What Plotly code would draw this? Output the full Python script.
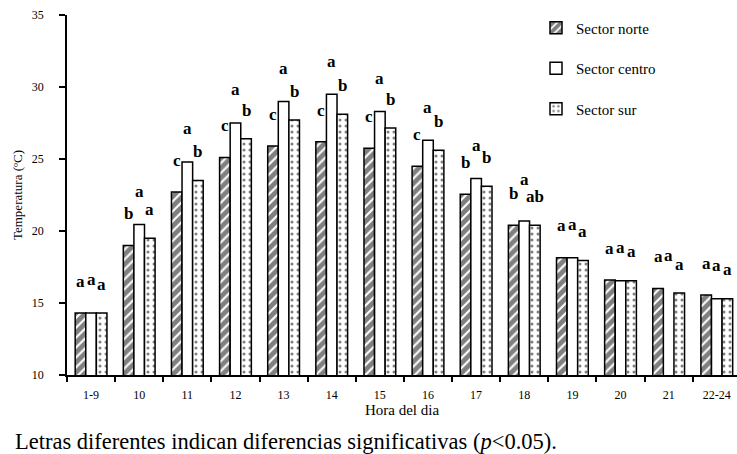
import plotly.graph_objects as go

categories = ["1-9", "10", "11", "12", "13", "14", "15", "16", "17", "18", "19", "20", "21", "22-24"]
series_names = ["Sector norte", "Sector centro", "Sector sur"]
norte = [14.3, 19.0, 22.7, 25.1, 25.9, 26.2, 25.75, 24.5, 22.55, 20.4, 18.15, 16.6, 16.0, 15.55]
centro = [14.3, 20.45, 24.8, 27.5, 29.0, 29.5, 28.3, 26.3, 23.65, 20.7, 18.15, 16.55, None, 15.3]
sur = [14.3, 19.5, 23.5, 26.4, 27.7, 28.1, 27.15, 25.6, 23.1, 20.4, 17.95, 16.55, 15.7, 15.3]
letters_norte = ["a", "b", "c", "c", "c", "c", "c", "c", "b", "b", "a", "a", "a", "a"]
letters_centro = ["a", "a", "a", "a", "a", "a", "a", "a", "a", "a", "a", "a", "a", "a"]
letters_sur = ["a", "a", "b", "b", "b", "b", "b", "b", "b", "ab", "a", "a", "a", "a"]
y_ticks = [10, 15, 20, 25, 30, 35]

FONT = "Liberation Serif"
series = [norte, centro, sur]
letters = [letters_norte, letters_centro, letters_sur]
letter_gap = [2.2, 2.3, 2.0]
patterns = [
    dict(shape="/", size=7, solidity=0.7, fgcolor="black", bgcolor="white", fillmode="overlay"),
    dict(shape="", fgcolor="black", bgcolor="white", fillmode="overlay"),
    dict(shape=".", size=6, solidity=0.2, fgcolor="black", bgcolor="white", fillmode="overlay"),
]

BARGAP = 0.34
bw = (1 - BARGAP) / 3

fig = go.Figure()
for j, (name, vals) in enumerate(zip(series_names, series)):
    fig.add_trace(go.Bar(
        x=categories, y=vals, name=name,
        legendgroup=name,
        marker=dict(color="white", line=dict(color="black", width=1.5), pattern=patterns[j]),
    ))

annotations = []
for i, cat in enumerate(categories):
    present = [s[i] for s in series if s[i] is not None]
    ys = []
    for j in range(3):
        v = series[j][i] if series[j][i] is not None else max(present)
        ys.append(v + letter_gap[j])
    # lift the middle letter when a neighbour label is wide, to avoid collisions
    if len(letters[0][i]) > 1 or len(letters[2][i]) > 1:
        ys[1] = max(ys[1], max(ys[0], ys[2]) + 1.0)
    for j in range(3):
        annotations.append(dict(
            x=i + (j - 1) * bw, y=ys[j], xref="x", yref="y",
            text="<b>%s</b>" % letters[j][i], showarrow=False,
            font=dict(family=FONT, size=17, color="black"),
        ))

annotations.append(dict(
    x=-0.081, y=-0.185, xref="paper", yref="paper", xanchor="left", yanchor="middle",
    text="Letras diferentes indican diferencias significativas (<i>p</i><0.05).",
    showarrow=False, font=dict(family=FONT, size=22.5, color="black"),
))

fig.update_layout(
    width=737, height=454,
    margin=dict(l=67, r=0, t=15, b=79),
    barmode="group", bargap=BARGAP, bargroupgap=0,
    plot_bgcolor="white", paper_bgcolor="white",
    font=dict(family=FONT, color="black"),
    legend=dict(x=0.70, y=1.01, xanchor="left", yanchor="top",
                traceorder="grouped", tracegroupgap=18,
                font=dict(family=FONT, size=15, color="black"),
                bgcolor="rgba(0,0,0,0)"),
    annotations=annotations,
)
fig.update_xaxes(
    type="category", range=[-0.5, 13.42],
    showline=True, linecolor="black", linewidth=1.5,
    ticks="outside", tickson="boundaries", ticklen=5, tickcolor="black", tickwidth=1.5,
    tickfont=dict(family=FONT, size=12, color="black"),
    ticklabelstandoff=8,
    title=dict(text="Hora del dia", font=dict(family=FONT, size=15, color="black"), standoff=2),
    showgrid=False,
)
fig.update_yaxes(
    range=[10, 35], tickvals=y_ticks,
    showline=True, linecolor="black", linewidth=1.5,
    ticks="outside", ticklen=6, tickcolor="black", tickwidth=1.5,
    tickfont=dict(family=FONT, size=12, color="black"),
    ticklabelstandoff=13,
    title=dict(text="Temperatura (ºC)", font=dict(family=FONT, size=13, color="black"), standoff=6),
    showgrid=False, zeroline=False,
)

fig.write_html("out.html", config={"displayModeBar": False},
               post_script="document.body.style.margin='0';document.body.style.overflow='hidden';")
